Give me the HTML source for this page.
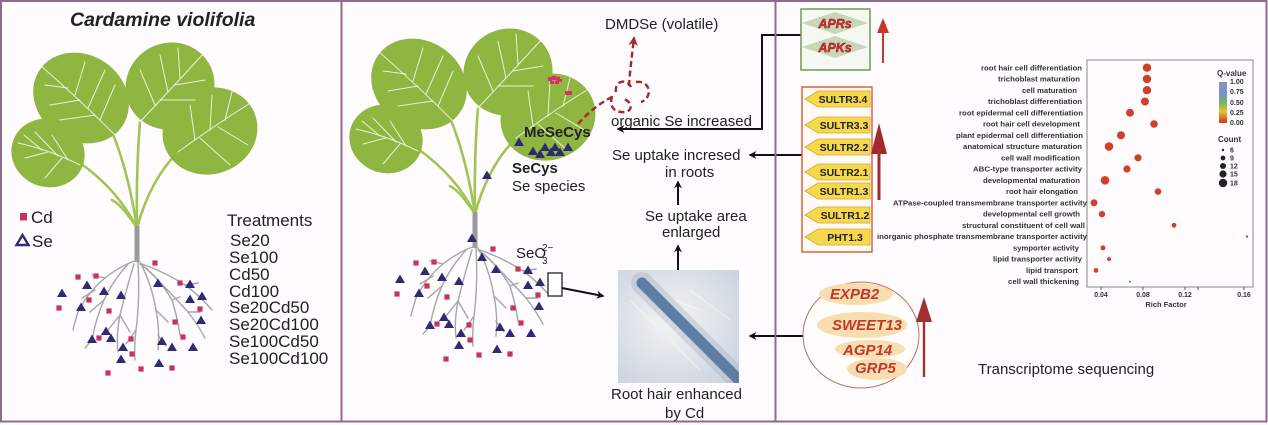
<!DOCTYPE html>
<html><head><meta charset="utf-8"><style>
html,body{margin:0;padding:0;background:#fff;}
svg{display:block;}
text{font-family:"Liberation Sans",Arial,sans-serif;}
</style></head><body>
<svg width="1268" height="425" viewBox="0 0 1268 425" xmlns="http://www.w3.org/2000/svg">
<defs>
 <path id="tri" d="M0,-4.5 L5,4 L-5,4Z" fill="#2e2c70"/>
 <rect id="sq" x="-2.6" y="-2.6" width="5.2" height="5.2" fill="#c9325f"/>
 <marker id="ah" viewBox="0 0 10 10" refX="8" refY="5" markerWidth="4" markerHeight="4" orient="auto"><path d="M0,0 L10,5 L0,10 L3,5Z" fill="#111"/></marker>
 <marker id="ahr" viewBox="0 0 10 10" refX="8" refY="5" markerWidth="4" markerHeight="4" orient="auto"><path d="M0,0 L10,5 L0,10 L3,5Z" fill="#a32a2a"/></marker>
 <linearGradient id="qv" x1="0" y1="0" x2="0" y2="1">
  <stop offset="0" stop-color="#8c8cc8"/><stop offset="0.3" stop-color="#7394c8"/><stop offset="0.5" stop-color="#6cb85a"/><stop offset="0.72" stop-color="#e8c232"/><stop offset="1" stop-color="#d8321e"/>
 </linearGradient>
 <radialGradient id="rhg" cx="0.45" cy="0.45" r="0.75">
  <stop offset="0" stop-color="#f3f5f7"/><stop offset="1" stop-color="#c9d1dc"/>
 </radialGradient>
 <clipPath id="rhc"><rect x="618" y="270" width="121" height="113"/></clipPath>
 <g id="plant">
  <g fill="none" stroke="#a2c454" stroke-width="2.6" stroke-linecap="round">
   <path d="M137,228 Q118,190 80,163"/>
   <path d="M137,228 Q128,170 112,132"/>
   <path d="M137,228 Q136,170 140,122"/>
   <path d="M137,228 Q150,180 178,152"/>
   <path d="M137,228 Q122,205 112,200"/>
  </g>
  <g fill="#8fb640">
   <ellipse cx="48" cy="153" rx="37" ry="34" transform="rotate(20 48 153)"/>
   <ellipse cx="170" cy="86" rx="45" ry="43" transform="rotate(-30 170 86)"/>
   <ellipse cx="81" cy="98" rx="50" ry="43" transform="rotate(35 81 98)"/>
   <ellipse cx="210" cy="131" rx="48" ry="43" transform="rotate(-20 210 131)"/>
  </g>
  <g fill="none" stroke="#ffffff" stroke-width="1" stroke-opacity="0.8" stroke-linecap="round">
   <path d="M80,165 Q50,150 18,143"/><path d="M68,160 L52,135"/><path d="M58,156 L35,132"/><path d="M48,152 L25,158"/><path d="M62,158 L45,178"/><path d="M42,150 L24,135"/>
   <path d="M115,135 Q80,100 40,65"/><path d="M100,120 L115,85"/><path d="M88,108 L105,70"/><path d="M75,95 L85,62"/><path d="M95,115 L60,120"/><path d="M80,100 L50,105"/><path d="M68,88 L45,85"/>
   <path d="M140,122 Q170,90 205,52"/><path d="M155,105 L140,70"/><path d="M168,92 L160,55"/><path d="M180,78 L178,48"/><path d="M160,100 L195,100"/><path d="M175,85 L205,80"/>
   <path d="M178,152 Q215,125 252,102"/><path d="M195,140 L190,105"/><path d="M210,130 L212,95"/><path d="M225,120 L232,92"/><path d="M200,138 L230,165"/><path d="M218,127 L248,145"/>
  </g>
  <rect x="134.5" y="226" width="5" height="36" fill="#9a9a9a"/>
  <g fill="none" stroke="#a6a6a6" stroke-width="1.4" stroke-linecap="round">
   <path d="M137,260 Q120,266 105,278 Q88,292 78,312 Q74,325 73,330"/>
   <path d="M128,264 Q112,282 104,300 Q96,318 92,340"/>
   <path d="M134,264 Q126,290 120,315 Q116,335 118,352"/>
   <path d="M138,262 Q140,300 136,330 Q134,345 135,360"/>
   <path d="M140,262 Q152,285 156,310 Q160,330 158,350"/>
   <path d="M142,264 Q165,272 185,285 Q200,296 212,310"/>
   <path d="M146,268 Q170,292 188,312 Q198,325 205,338"/>
   <path d="M140,264 Q158,276 172,300 Q178,320 180,335"/>
   <path d="M105,278 L92,275"/><path d="M95,290 L82,298"/><path d="M104,300 L90,312"/><path d="M120,315 L108,330"/><path d="M120,315 L130,332"/><path d="M156,310 L168,322"/><path d="M185,285 L198,283"/><path d="M188,312 L200,312"/><path d="M172,300 L180,297"/><path d="M92,340 L85,348"/><path d="M136,330 L126,344"/><path d="M158,335 L166,346"/>
  </g>
  <use href="#sq" x="155" y="263"/><use href="#sq" x="78" y="277"/><use href="#sq" x="96" y="276"/><use href="#sq" x="180" y="283"/>
  <use href="#sq" x="89" y="300"/><use href="#sq" x="59" y="308"/><use href="#sq" x="109" y="311"/><use href="#sq" x="200" y="309"/>
  <use href="#sq" x="175" y="322"/><use href="#sq" x="99" y="338"/><use href="#sq" x="131" y="339"/><use href="#sq" x="183" y="337"/>
  <use href="#sq" x="132" y="354"/><use href="#sq" x="141" y="369"/><use href="#sq" x="172" y="368"/><use href="#sq" x="108" y="373"/>
  <use href="#tri" x="87" y="285"/><use href="#tri" x="62" y="293"/><use href="#tri" x="104" y="291"/><use href="#tri" x="121" y="295"/>
  <use href="#tri" x="158" y="283"/><use href="#tri" x="190" y="284"/><use href="#tri" x="190" y="299"/><use href="#tri" x="202" y="296"/>
  <use href="#tri" x="81" y="307"/><use href="#tri" x="201" y="320"/><use href="#tri" x="106" y="331"/><use href="#tri" x="92" y="339"/>
  <use href="#tri" x="111" y="338"/><use href="#tri" x="123" y="347"/><use href="#tri" x="162" y="341"/><use href="#tri" x="172" y="347"/>
  <use href="#tri" x="193" y="347"/><use href="#tri" x="121" y="359"/><use href="#tri" x="159" y="363"/>
 </g>
</defs>

<rect width="1268" height="425" fill="#fefcfe"/>

<!-- LEFT PANEL -->
<text x="70" y="26" font-size="19.5" font-weight="bold" font-style="italic" fill="#222">Cardamine violifolia</text>
<use href="#plant"/>
<rect x="20" y="213" width="7" height="7.5" fill="#c9325f"/>
<text x="31" y="223" font-size="17" fill="#222">Cd</text>
<path d="M22.5,235 L28.5,245 L16.5,245Z" fill="#fff" stroke="#2e2c70" stroke-width="2.4" stroke-linejoin="miter"/>
<text x="32" y="247" font-size="17" fill="#222">Se</text>
<g font-size="17" fill="#222">
 <text x="227" y="226">Treatments</text>
 <text x="230" y="246">Se20</text>
 <text x="229" y="263">Se100</text>
 <text x="229" y="280">Cd50</text>
 <text x="229" y="297">Cd100</text>
 <text x="229" y="313">Se20Cd50</text>
 <text x="229" y="330">Se20Cd100</text>
 <text x="229" y="347">Se100Cd50</text>
 <text x="229" y="364">Se100Cd100</text>
</g>

<!-- MIDDLE PANEL -->
<g transform="translate(338,-14)">
 <use href="#plant"/>
 <use href="#tri" x="144" y="271"/>
 <use href="#tri" x="134" y="252"/>
</g>
<g fill="#d8306c">
 <rect x="548" y="77" width="4" height="4"/><rect x="552" y="76" width="4" height="4"/><rect x="556" y="77" width="4" height="4"/><rect x="550" y="81" width="4" height="3"/><rect x="555" y="81" width="4" height="3"/><rect x="559" y="79" width="3" height="3"/>
 <rect x="565" y="91" width="4" height="4"/><rect x="569" y="91" width="3" height="4"/>
</g>
<use href="#tri" x="519" y="142"/><use href="#tri" x="533" y="151"/><use href="#tri" x="540" y="154"/><use href="#tri" x="545" y="147"/>
<use href="#tri" x="551" y="152"/><use href="#tri" x="555" y="147"/><use href="#tri" x="560" y="152"/><use href="#tri" x="568" y="147"/>
<use href="#tri" x="487" y="175"/>
<text x="524" y="137" font-size="15" font-weight="bold" fill="#222">MeSeCys</text>
<text x="512" y="173" font-size="15" font-weight="bold" fill="#222">SeCys</text>
<text x="512" y="191" font-size="15" fill="#222">Se species</text>

<g fill="none" stroke="#a32a2a" stroke-width="2.4" stroke-dasharray="6 3.5" stroke-linecap="butt">
 <path d="M578,124 Q594,106 612,97"/>
 <path d="M612,96 C609,108 615,113 626,112 C633,110 632,102 624,99"/>
 <path d="M616,92 C614,82 626,77 631,87"/>
 <path d="M636,82 C651,80 653,98 641,102"/>
 <path d="M629,86 C630,70 632,55 634,38" marker-end="url(#ahr)"/>
</g>
<text x="605" y="29" font-size="15" fill="#222">DMDSe (volatile)</text>
<text x="611" y="126" font-size="15" fill="#222">organic Se increased</text>
<text x="612" y="160" font-size="15" fill="#222">Se uptake incresed</text>
<text x="665" y="177" font-size="15" fill="#222">in roots</text>
<text x="645" y="221" font-size="15" fill="#222">Se uptake area</text>
<text x="662" y="237" font-size="15" fill="#222">enlarged</text>
<text x="611" y="399" font-size="15" fill="#222">Root hair enhanced</text>
<text x="665" y="418" font-size="15" fill="#222">by Cd</text>
<text x="516" y="258" font-size="15" fill="#222">SeO</text>
<text x="542" y="251" font-size="10" fill="#222">2−</text>
<text x="542" y="264" font-size="10" fill="#222">3</text>
<rect x="548" y="273" width="14" height="23" fill="#fff" stroke="#222" stroke-width="1.3"/>

<rect x="618" y="270" width="121" height="113" fill="url(#rhg)"/>
<g clip-path="url(#rhc)">
 <g stroke="#ffffff" stroke-width="0.8" opacity="0.6">
  <line x1="630" y1="300" x2="660" y2="330"/><line x1="650" y1="290" x2="700" y2="310"/><line x1="670" y1="340" x2="700" y2="370"/><line x1="690" y1="290" x2="730" y2="320"/>
 </g>
 <line x1="642" y1="283" x2="745" y2="386" stroke="#a9b8cc" stroke-width="22" opacity="0.45" stroke-linecap="round"/>
 <line x1="642" y1="283" x2="745" y2="386" stroke="#5f7ca4" stroke-width="11" stroke-linecap="round"/>
</g>

<g fill="none" stroke="#111" stroke-width="2">
 <path d="M801,35 H762 V129 H618" marker-end="url(#ah)"/>
 <path d="M802,155 H750" marker-end="url(#ah)"/>
 <path d="M803,336 H750" marker-end="url(#ah)"/>
 <path d="M678,270 V246" marker-end="url(#ah)"/>
 <path d="M678,205 V182" marker-end="url(#ah)"/>
 <path d="M562,288 L603,296" marker-end="url(#ah)"/>
</g>

<!-- RIGHT PANEL -->
<rect x="801" y="9" width="69" height="61" fill="#f6f8f2" stroke="#6f9a55" stroke-width="1.5"/>
<polygon points="802,23 835,12 868,23 835,34" fill="#c8d7b9"/>
<polygon points="802,47 835,36 868,47 835,58" fill="#c8d7b9"/>
<text x="835" y="28" font-size="12.5" font-weight="bold" font-style="italic" fill="#e02a2a" stroke="#7a1010" stroke-width="0.4" text-anchor="middle">APRs</text>
<text x="835" y="52" font-size="12.5" font-weight="bold" font-style="italic" fill="#e02a2a" stroke="#7a1010" stroke-width="0.4" text-anchor="middle">APKs</text>
<line x1="883" y1="63" x2="883" y2="30" stroke="#c0392b" stroke-width="2"/>
<polygon points="877,33 883,18 889,33" fill="#c0392b"/>

<rect x="802" y="87" width="70" height="165" fill="#fffaf6" stroke="#e0603c" stroke-width="1.5"/>
<g fill="#f7d84a" stroke="#cfa83a" stroke-width="0.8">
 <polygon points="805,99 818,91 870,91 870,107 818,107"/>
 <polygon points="805,125 818,117 870,117 870,133 818,133"/>
 <polygon points="805,147 818,139 870,139 870,155 818,155"/>
 <polygon points="805,172 818,164 870,164 870,180 818,180"/>
 <polygon points="805,191 818,183 870,183 870,199 818,199"/>
 <polygon points="805,215 818,207 870,207 870,223 818,223"/>
 <polygon points="805,237 818,229 870,229 870,245 818,245"/>
</g>
<g font-size="10.5" font-weight="bold" fill="#222" text-anchor="middle">
 <text x="843" y="103">SULTR3.4</text>
 <text x="844" y="129">SULTR3.3</text>
 <text x="844" y="151">SULTR2.2</text>
 <text x="844" y="176">SULTR2.1</text>
 <text x="844" y="195">SULTR1.3</text>
 <text x="845" y="219">SULTR1.2</text>
 <text x="845" y="241">PHT1.3</text>
</g>
<line x1="879" y1="200" x2="879" y2="150" stroke="#a32a2a" stroke-width="3"/>
<polygon points="871,154 879,123 887,154" fill="#a32a2a"/>

<rect x="1087" y="60" width="166" height="227" fill="none" stroke="#888" stroke-width="1"/>
<g font-size="7.5" font-weight="bold" fill="#333" text-anchor="end">
 <text x="1082" y="70.3" textLength="101" lengthAdjust="spacingAndGlyphs">root hair cell differentiation</text>
 <text x="1080" y="81.6" textLength="82" lengthAdjust="spacingAndGlyphs">trichoblast maturation</text>
 <text x="1077" y="92.8" textLength="55" lengthAdjust="spacingAndGlyphs">cell maturation</text>
 <text x="1082" y="104.1" textLength="94" lengthAdjust="spacingAndGlyphs">trichoblast differentiation</text>
 <text x="1083" y="115.3" textLength="124" lengthAdjust="spacingAndGlyphs">root epidermal cell differentiation</text>
 <text x="1080" y="126.6" textLength="97" lengthAdjust="spacingAndGlyphs">root hair cell development</text>
 <text x="1083" y="137.9" textLength="127" lengthAdjust="spacingAndGlyphs">plant epidermal cell differentiation</text>
 <text x="1082" y="149.1" textLength="119" lengthAdjust="spacingAndGlyphs">anatomical structure maturation</text>
 <text x="1080" y="160.4" textLength="79" lengthAdjust="spacingAndGlyphs">cell wall modification</text>
 <text x="1082" y="171.6" textLength="109" lengthAdjust="spacingAndGlyphs">ABC-type transporter activity</text>
 <text x="1080" y="182.9" textLength="97" lengthAdjust="spacingAndGlyphs">developmental maturation</text>
 <text x="1078" y="194.2" textLength="72" lengthAdjust="spacingAndGlyphs">root hair elongation</text>
 <text x="1087" y="205.4" textLength="194" lengthAdjust="spacingAndGlyphs">ATPase-coupled transmembrane transporter activity</text>
 <text x="1080" y="216.7" textLength="97" lengthAdjust="spacingAndGlyphs">developmental cell growth</text>
 <text x="1085" y="227.9" textLength="123" lengthAdjust="spacingAndGlyphs">structural constituent of cell wall</text>
 <text x="1087" y="239.2" textLength="210" lengthAdjust="spacingAndGlyphs">inorganic phosphate transmembrane transporter activity</text>
 <text x="1079" y="250.5" textLength="66" lengthAdjust="spacingAndGlyphs">symporter activity</text>
 <text x="1082" y="261.7" textLength="89" lengthAdjust="spacingAndGlyphs">lipid transporter activity</text>
 <text x="1078" y="273.0" textLength="52" lengthAdjust="spacingAndGlyphs">lipid transport</text>
 <text x="1079" y="284.2" textLength="71" lengthAdjust="spacingAndGlyphs">cell wall thickening</text>
</g>
<g fill="#d2402b">
 <circle cx="1147" cy="67.7" r="4.2"/><circle cx="1147" cy="79.0" r="4.2"/><circle cx="1147" cy="90.2" r="4.2"/><circle cx="1145" cy="101.5" r="4"/>
 <circle cx="1130" cy="112.7" r="4"/><circle cx="1154" cy="124.0" r="3.8"/><circle cx="1121" cy="135.3" r="4"/><circle cx="1109" cy="146.5" r="4.3"/>
 <circle cx="1138" cy="157.8" r="3.6"/><circle cx="1127" cy="169.0" r="3.6"/><circle cx="1105" cy="180.3" r="4.3"/><circle cx="1158" cy="191.6" r="3.3"/>
 <circle cx="1094" cy="202.8" r="3.5"/><circle cx="1102" cy="214.1" r="3.2"/><circle cx="1174" cy="225.3" r="2.4"/><circle cx="1247" cy="236.6" r="1.2"/>
 <circle cx="1103" cy="247.9" r="2.5"/><circle cx="1109" cy="259.1" r="2"/><circle cx="1096" cy="270.4" r="2.4"/><circle cx="1130" cy="281.6" r="1"/>
</g>
<g stroke="#555" stroke-width="1">
 <line x1="1101" y1="287" x2="1101" y2="290"/><line x1="1143" y1="287" x2="1143" y2="290"/><line x1="1185" y1="287" x2="1185" y2="290"/><line x1="1198" y1="287" x2="1198" y2="290"/><line x1="1244" y1="287" x2="1244" y2="290"/>
</g>
<g font-size="7" font-weight="bold" fill="#333" text-anchor="middle">
 <text x="1101" y="297">0.04</text><text x="1143" y="297">0.08</text><text x="1185" y="297">0.12</text><text x="1244" y="297">0.16</text>
 <text x="1166" y="307" font-size="7.5">Rich Factor</text>
</g>
<text x="1217" y="76" font-size="8" font-weight="bold" fill="#333">Q-value</text>
<rect x="1219" y="82" width="8" height="41" fill="url(#qv)"/>
<g font-size="7" font-weight="bold" fill="#333">
 <text x="1230" y="84">1.00</text><text x="1230" y="94">0.75</text><text x="1230" y="105">0.50</text><text x="1230" y="115">0.25</text><text x="1230" y="125">0.00</text>
</g>
<text x="1218" y="142" font-size="8" font-weight="bold" fill="#333">Count</text>
<g fill="#222">
 <circle cx="1223" cy="150" r="1.2"/><circle cx="1223" cy="158" r="2.4"/><circle cx="1223" cy="166" r="3"/><circle cx="1223" cy="174" r="3.6"/><circle cx="1223" cy="183" r="4.2"/>
</g>
<g font-size="7" font-weight="bold" fill="#333">
 <text x="1230" y="152.5">6</text><text x="1230" y="160.5">9</text><text x="1230" y="168.5">12</text><text x="1230" y="176.5">15</text><text x="1230" y="185.5">18</text>
</g>

<ellipse cx="861" cy="335" rx="58" ry="53" fill="#fffdfb" stroke="#b87060" stroke-width="1"/>
<g fill="#f8ddb0">
 <ellipse cx="856" cy="294" rx="37" ry="11"/>
 <ellipse cx="862" cy="325" rx="45" ry="13"/>
 <ellipse cx="870" cy="349" rx="35" ry="9"/>
 <ellipse cx="877" cy="369" rx="30" ry="11"/>
</g>
<g font-size="15" font-weight="bold" font-style="italic" fill="#c0392b">
 <text x="830" y="299">EXPB2</text>
 <text x="832" y="330">SWEET13</text>
 <text x="843" y="355">AGP14</text>
 <text x="855" y="373">GRP5</text>
</g>
<line x1="924" y1="377" x2="924" y2="318" stroke="#a33030" stroke-width="2.4"/>
<polygon points="916,322 924,297 932,322" fill="#a33030"/>
<text x="978" y="374" font-size="15" fill="#222">Transcriptome sequencing</text>

<g fill="none" stroke="#8e6a8e" stroke-width="2">
 <rect x="1" y="1" width="1265.5" height="420.5"/>
 <line x1="341.5" y1="1" x2="341.5" y2="422"/>
 <line x1="775.5" y1="1" x2="775.5" y2="422"/>
</g>
</svg>
</body></html>
